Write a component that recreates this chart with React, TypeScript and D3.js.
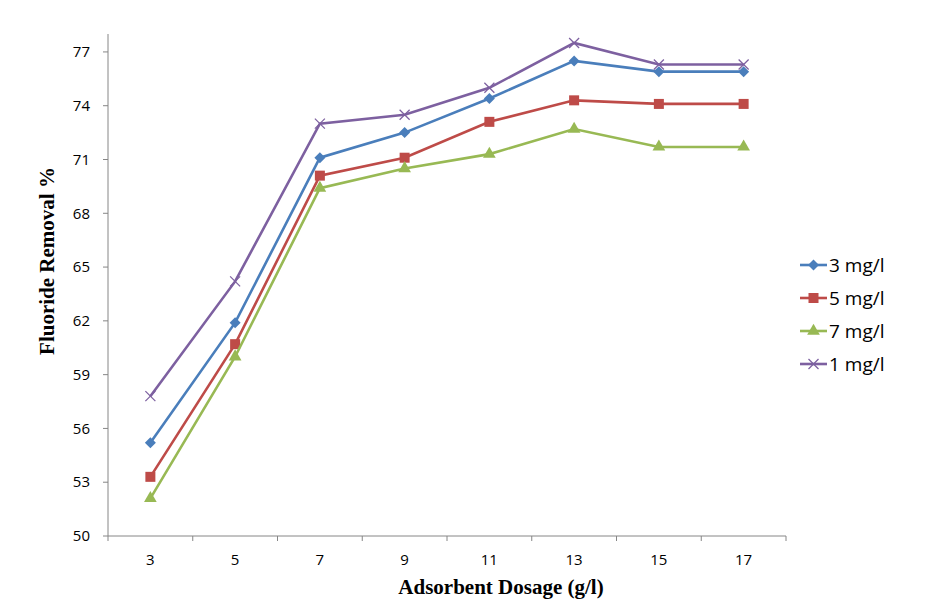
import React from "react";
import * as d3 from "d3";

const dosages = ["3", "5", "7", "9", "11", "13", "15", "17"];
const yTicks = [50, 53, 56, 59, 62, 65, 68, 71, 74, 77];

const series3 = [55.2, 61.9, 71.1, 72.5, 74.4, 76.5, 75.9, 75.9];
const series5 = [53.3, 60.7, 70.1, 71.1, 73.1, 74.3, 74.1, 74.1];
const series7 = [52.1, 60.0, 69.4, 70.5, 71.3, 72.7, 71.7, 71.7];
const series1 = [57.8, 64.2, 73.0, 73.5, 75.0, 77.5, 76.3, 76.3];

const seriesList = [
  { name: "3 mg/l", values: series3, color: "#4A7EBB", marker: "diamond" },
  { name: "5 mg/l", values: series5, color: "#BE4B48", marker: "square" },
  { name: "7 mg/l", values: series7, color: "#98B954", marker: "triangle" },
  { name: "1 mg/l", values: series1, color: "#7D60A0", marker: "x" },
];

const W = 934;
const H = 604;
const margin = { left: 108, right: 148, top: 34, bottom: 68 };

function Marker({ type, x, y, color }: { type: string; x: number; y: number; color: string }) {
  if (type === "diamond") {
    const r = 5.5;
    return (
      <path
        d={`M${x},${y - r}L${x + r},${y}L${x},${y + r}L${x - r},${y}Z`}
        fill={color}
      />
    );
  }
  if (type === "square") {
    return <rect x={x - 5} y={y - 5} width={10} height={10} fill={color} />;
  }
  if (type === "triangle") {
    const p = d3.symbol(d3.symbolTriangle, 70)();
    return <path d={p || ""} transform={`translate(${x},${y})`} fill={color} />;
  }
  return (
    <g stroke={color} strokeWidth={1.3}>
      <line x1={x - 5} y1={y - 5} x2={x + 5} y2={y + 5} />
      <line x1={x - 5} y1={y + 5} x2={x + 5} y2={y - 5} />
    </g>
  );
}

export default function App() {
  const x = d3
    .scaleBand()
    .domain(dosages)
    .range([margin.left, W - margin.right]);
  const y = d3
    .scaleLinear()
    .domain([50, 78])
    .range([H - margin.bottom, margin.top]);

  const cx = (i: number) => (x(dosages[i]) as number) + x.bandwidth() / 2;

  const line = d3
    .line<number>()
    .x((_, i) => cx(i))
    .y((d) => y(d));

  const axisColor = "#868686";
  const tickFont = "'Open Sans', sans-serif";
  const bottom = H - margin.bottom;

  return (
    <svg width={W} height={H} style={{ position: "absolute", left: 0, top: 0, background: "#fff" }}>
      {/* y axis */}
      <line x1={margin.left} x2={margin.left} y1={margin.top} y2={bottom} stroke={axisColor} />
      {yTicks.map((t) => (
        <g key={t}>
          <line x1={margin.left - 5} x2={margin.left} y1={y(t)} y2={y(t)} stroke={axisColor} />
          <text
            x={margin.left - 18}
            y={y(t)}
            dy="0.35em"
            textAnchor="end"
            fontFamily={tickFont}
            fontSize={15}
            fill="#000"
          >
            {t}
          </text>
        </g>
      ))}
      {/* x axis */}
      <line x1={margin.left} x2={W - margin.right} y1={bottom} y2={bottom} stroke={axisColor} />
      {dosages.map((d, i) => (
        <g key={d}>
          <line x1={x(d) as number} x2={x(d) as number} y1={bottom} y2={bottom + 5} stroke={axisColor} />
          <text x={cx(i)} y={bottom + 29} textAnchor="middle" fontFamily={tickFont} fontSize={15}>
            {d}
          </text>
        </g>
      ))}
      <line x1={W - margin.right} x2={W - margin.right} y1={bottom} y2={bottom + 5} stroke={axisColor} />

      {/* series */}
      {seriesList.map((s) => (
        <g key={s.name}>
          <path d={line(s.values) || ""} fill="none" stroke={s.color} strokeWidth={2.6} />
          {s.values.map((v, i) => (
            <Marker key={i} type={s.marker} x={cx(i)} y={y(v)} color={s.color} />
          ))}
        </g>
      ))}

      {/* axis titles */}
      <text
        x={501}
        y={594}
        textAnchor="middle"
        fontFamily="'Liberation Serif', serif"
        fontWeight="bold"
        fontSize={21}
      >
        Adsorbent Dosage (g/l)
      </text>
      <text
        transform={`translate(54,261) rotate(-90)`}
        textAnchor="middle"
        fontFamily="'Liberation Serif', serif"
        fontWeight="bold"
        fontSize={21}
      >
        Fluoride Removal %
      </text>

      {/* legend */}
      {seriesList.map((s, i) => {
        const ly = 265 + i * 33;
        return (
          <g key={s.name}>
            <line x1={800} x2={827} y1={ly} y2={ly} stroke={s.color} strokeWidth={2.6} />
            <Marker type={s.marker} x={813.5} y={ly} color={s.color} />
            <text x={829} y={ly} dy="0.36em" fontFamily={tickFont} fontSize={19}>
              {s.name}
            </text>
          </g>
        );
      })}
    </svg>
  );
}
